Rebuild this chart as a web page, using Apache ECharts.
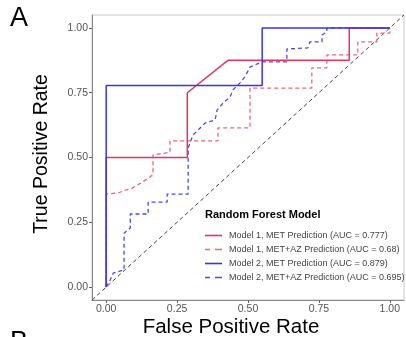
<!DOCTYPE html>
<html>
<head>
<meta charset="utf-8">
<script src="https://cdn.jsdelivr.net/npm/echarts@6/dist/echarts.min.js"></script>
<style>html,body{margin:0;padding:0;background:#fff;}#c{width:406px;height:337px;}</style>
</head>
<body>
<div id="c"></div>
<script>
var tickValues = [0, 0.25, 0.5, 0.75, 1];
var seriesNames = [
  'Model 1, MET Prediction (AUC = 0.777)',
  'Model 1, MET+AZ Prediction (AUC = 0.68)',
  'Model 2, MET Prediction (AUC = 0.879)',
  'Model 2, MET+AZ Prediction (AUC = 0.695)'
];
var m1MetFpr = [0, 0, 0.286, 0.286, 0.429, 0.857, 0.857, 1];
var m1MetTpr = [0, 0.5, 0.5, 0.75, 0.875, 0.875, 1, 1];
var m1AzFpr = [0, 0, 0.042, 0.06, 0.092, 0.12, 0.155, 0.165, 0.165, 0.225, 0.225, 0.394, 0.394, 0.507, 0.507, 0.725, 0.725, 0.778, 0.778, 0.887, 0.887, 0.954, 0.954, 1, 1];
var m1AzTpr = [0, 0.359, 0.363, 0.371, 0.382, 0.40, 0.425, 0.436, 0.51, 0.52, 0.564, 0.564, 0.614, 0.614, 0.768, 0.768, 0.846, 0.846, 0.896, 0.896, 0.946, 0.946, 0.98, 0.98, 1];
var m2MetFpr = [0, 0, 0.55, 0.55, 1];
var m2MetTpr = [0, 0.778, 0.778, 1, 1];
var m2AzFpr = [0, 0.014, 0.025, 0.063, 0.063, 0.085, 0.085, 0.148, 0.148, 0.215, 0.215, 0.289, 0.289, 0.306, 0.324, 0.349, 0.384, 0.391, 0.412, 0.437, 0.447, 0.472, 0.489, 0.507, 0.549, 0.637, 0.637, 0.711, 0.718, 0.761, 0.761, 0.778, 0.778, 1];
var m2AzTpr = [0, 0.027, 0.054, 0.066, 0.208, 0.228, 0.282, 0.282, 0.328, 0.328, 0.359, 0.359, 0.537, 0.587, 0.606, 0.633, 0.645, 0.683, 0.710, 0.734, 0.761, 0.788, 0.811, 0.849, 0.869, 0.869, 0.919, 0.923, 0.946, 0.946, 0.973, 0.985, 1, 1];
var diagX = [-0.05, 1.05];
var diagY = [-0.05, 1.05];

function pairs(xs, ys) { return xs.map(function (x, i) { return [x, ys[i]]; }); }

var FONT = 'Liberation Sans, Arial, sans-serif';
var SOLID_ICON = 'path://M0,0H17V1.6H0Z';
var DASH_ICON = 'path://M0,0H5V1.6H0Z M10,0H17V1.6H10Z';
var chart = echarts.init(document.getElementById('c'), null, {renderer: 'canvas'});
var axisCommon = {
  type: 'value', min: -0.05, max: 1.05,
  splitLine: {show: false},
  axisLine: {show: true, onZero: false, lineStyle: {color: '#888', width: 1}},
  axisTick: {show: true, customValues: tickValues, length: 3, lineStyle: {color: '#666'}},
  axisLabel: {customValues: tickValues, color: '#555', fontSize: 10.5, fontFamily: FONT,
    formatter: function (v) { return v.toFixed(2); }}
};
chart.setOption({
  animation: false,
  grid: {left: 92, right: 2, top: 15, bottom: 37, show: true, borderColor: '#c8c8c8', borderWidth: 1, backgroundColor: '#fff'},
  xAxis: Object.assign({}, axisCommon, {axisLabel: Object.assign({}, axisCommon.axisLabel, {margin: 4})}),
  yAxis: Object.assign({}, axisCommon, {axisLabel: Object.assign({}, axisCommon.axisLabel, {margin: 4})}),
  legend: {
    orient: 'vertical', left: 205, top: 231, itemWidth: 17, itemHeight: 1.6, itemGap: 5,
    padding: 0,
    data: [
      {name: seriesNames[0], icon: SOLID_ICON},
      {name: seriesNames[1], icon: DASH_ICON},
      {name: seriesNames[2], icon: SOLID_ICON},
      {name: seriesNames[3], icon: DASH_ICON}
    ],
    textStyle: {fontSize: 9, color: '#444', fontFamily: FONT, padding: [0, 0, 0, 2]}
  },
  graphic: [
    {type: 'text', left: 10, top: 5, style: {text: 'A', fontSize: 27, fontFamily: FONT, fill: '#000'}},
    {type: 'text', left: 10, top: 329, style: {text: 'B', fontSize: 27, fontFamily: FONT, fill: '#000'}},
    {type: 'text', x: 231, y: 327, style: {text: 'False Positive Rate', fontSize: 20.5, fontFamily: FONT, fill: '#000', align: 'center', verticalAlign: 'middle'}},
    {type: 'text', x: 42, y: 154, rotation: Math.PI / 2, style: {text: 'True Positive Rate', fontSize: 19.5, fontFamily: FONT, fill: '#000', align: 'center', verticalAlign: 'middle'}},
    {type: 'text', x: 205, y: 215, style: {text: 'Random Forest Model', fontSize: 11, fontWeight: 'bold', fontFamily: FONT, fill: '#000', verticalAlign: 'middle'}}
  ],
  series: [
    {type: 'line', name: 'diag', data: pairs(diagX, diagY), symbol: 'none', silent: true,
      lineStyle: {color: '#444', width: 1, type: [4, 3]}, z: 1},
    {type: 'line', name: seriesNames[1], data: pairs(m1AzFpr, m1AzTpr), symbol: 'none',
      itemStyle: {color: '#f4637a'}, lineStyle: {color: '#f4637a', width: 1.3, type: [4, 3]}, z: 2},
    {type: 'line', name: seriesNames[3], data: pairs(m2AzFpr, m2AzTpr), symbol: 'none',
      itemStyle: {color: '#4a4af0'}, lineStyle: {color: '#4a4af0', width: 1.3, type: [4, 3]}, z: 3},
    {type: 'line', name: seriesNames[0], data: pairs(m1MetFpr, m1MetTpr), symbol: 'none',
      itemStyle: {color: '#ee3358'}, lineStyle: {color: '#ee3358', width: 1.5}, z: 4},
    {type: 'line', name: seriesNames[2], data: pairs(m2MetFpr, m2MetTpr), symbol: 'none',
      itemStyle: {color: '#3535f0'}, lineStyle: {color: '#3535f0', width: 1.5}, z: 5}
  ]
});
</script>
</body>
</html>
